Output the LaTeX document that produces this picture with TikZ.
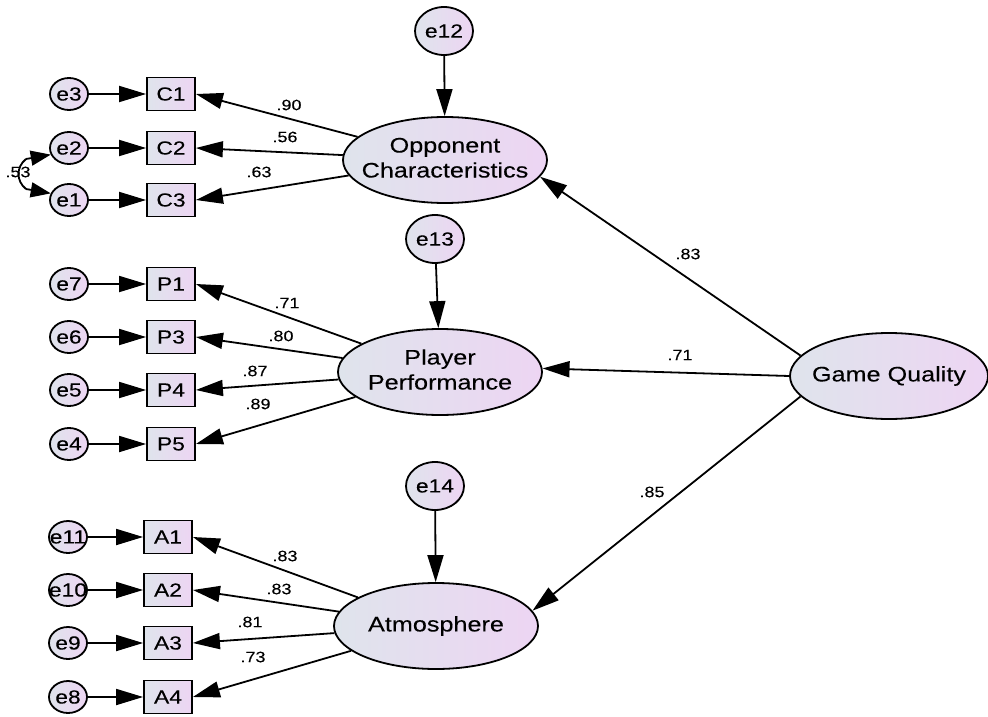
\documentclass[tikz,border=0pt]{standalone}
\usepackage{fontspec}
\setmainfont{Liberation Sans}[FakeStretch=1.2,FakeBold=0.15]
\usetikzlibrary{shapes.geometric,arrows.meta}
\definecolor{shadeL}{HTML}{DFE4EC}
\definecolor{shadeR}{HTML}{EDD5F3}
\tikzset{
  semfill/.style={left color=shadeL,right color=shadeR},
  % text is set in a box of zero width so that the shape keeps its given size
  zerowidth/.style={execute at begin node={\hbox to 0pt\bgroup\hss},
    execute at end node={\hss\egroup}},
  latent/.style={ellipse,draw,line width=1.8pt,semfill,minimum width=204pt,
    minimum height=86pt,inner sep=0pt,zerowidth,
    font=\fontsize{21}{25}\selectfont},
  disturb/.style={ellipse,draw,line width=1.8pt,semfill,minimum width=58pt,
    minimum height=48pt,inner sep=0pt,zerowidth,font=\fontsize{19}{21}\selectfont},
  errvar/.style={ellipse,draw,line width=1.8pt,semfill,minimum width=38pt,
    minimum height=32pt,inner sep=0pt,zerowidth,font=\fontsize{19}{21}\selectfont},
  indic/.style={rectangle,draw,line width=1.8pt,semfill,minimum width=48pt,
    minimum height=33pt,inner sep=0pt,zerowidth,font=\fontsize{19}{21}\selectfont},
  regarrow/.style={draw,line width=1.8pt,-{Triangle[length=27pt,width=16pt]}},
  covline/.style={draw,line width=1.8pt},
  covtip/.style={draw,line width=1.8pt,-{Triangle[length=20pt,width=15pt]}},
  coef/.style={font=\fontsize{15}{17}\selectfont,inner sep=0pt}
}
\newcommand{\twolines}[2]{\raisebox{-6pt}{\begin{tabular}{@{}c@{}}#1\\#2\end{tabular}}}
\begin{document}
\begin{tikzpicture}[x=1pt,y=-1pt]
\clip (0,0) rectangle (988,717);
\fill[white] (0,0) rectangle (988,717);

% latent variables
\node[latent] (opp) at (445,160) {\twolines{Opponent}{Characteristics}};
\node[latent] (pp)  at (440,372) {\twolines{Player}{Performance}};
\node[latent] (atm) at (436,626) {Atmosphere};
\node[latent,minimum width=198pt] (gq) at (889,376) {Game Quality};

% disturbances
\node[disturb] (e12) at (444,31)  {e12};
\node[disturb] (e13) at (435,239) {e13};
\node[disturb] (e14) at (435,486) {e14};

% indicators
\node[indic] (c1) at (171,94)  {C1};
\node[indic] (c2) at (171,148) {C2};
\node[indic] (c3) at (171,200) {C3};
\node[indic] (p1) at (171,284) {P1};
\node[indic] (p3) at (171,337) {P3};
\node[indic] (p4) at (171,390) {P4};
\node[indic] (p5) at (171,444) {P5};
\node[indic] (a1) at (168,537) {A1};
\node[indic] (a2) at (168,590) {A2};
\node[indic] (a3) at (168,643) {A3};
\node[indic] (a4) at (168,697) {A4};

% measurement errors
\node[errvar] (e3)  at (69,94)  {e3};
\node[errvar] (e2)  at (69,148) {e2};
\node[errvar] (e1)  at (69,200) {e1};
\node[errvar] (e7)  at (69,284) {e7};
\node[errvar] (e6)  at (69,337) {e6};
\node[errvar] (e5)  at (69,390) {e5};
\node[errvar] (e4)  at (69,444) {e4};
\node[errvar] (e11) at (68,537) {e11};
\node[errvar] (e10) at (68,590) {e10};
\node[errvar] (e9)  at (68,643) {e9};
\node[errvar] (e8)  at (68,697) {e8};

% error paths
\foreach \e/\i in {e3/c1,e2/c2,e1/c3,e7/p1,e6/p3,e5/p4,e4/p5,e11/a1,e10/a2,e9/a3,e8/a4}
  \draw[regarrow] (\e) -- (\i);
\draw[regarrow] (e12) -- (opp);
\draw[regarrow] (e13) -- (pp);
\draw[regarrow] (e14) -- (atm);

% loadings
\foreach \i in {c1,c2,c3} \draw[regarrow] (opp) -- (\i.east);
\foreach \i in {p1,p3,p4,p5} \draw[regarrow] (pp) -- (\i.east);
\foreach \i in {a1,a2,a3,a4} \draw[regarrow] (atm) -- (\i.east);

% structural paths
\draw[regarrow] (gq.167) -- (opp.-10);
\draw[regarrow] (gq.west) -- (pp.2);
\draw[regarrow] (gq.193) -- (atm.9);

% covariance between e1 and e2: a bow with a tip at each end
\node[coef] (r12) at (18,172) {.53};
\coordinate (covhi) at (26,159);
\coordinate (covlo) at (26,189);
\draw[covline] (covlo) .. controls (16,181) and (16,167) .. (covhi);
\draw[covtip] (covhi) -- (e2.200);
\draw[covtip] (covlo) -- (e1.160);

% coefficients
\node[coef] at (289,105) {.90};
\node[coef] at (285,137) {.56};
\node[coef] at (259,172) {.63};
\node[coef] at (287,303) {.71};
\node[coef] at (281,336) {.80};
\node[coef] at (255,371) {.87};
\node[coef] at (258,404) {.89};
\node[coef] at (285,556) {.83};
\node[coef] at (279,589) {.83};
\node[coef] at (250,622) {.81};
\node[coef] at (253,657) {.73};
\node[coef] at (688,254) {.83};
\node[coef] at (680,355) {.71};
\node[coef] at (652,492) {.85};
\end{tikzpicture}
\end{document}
